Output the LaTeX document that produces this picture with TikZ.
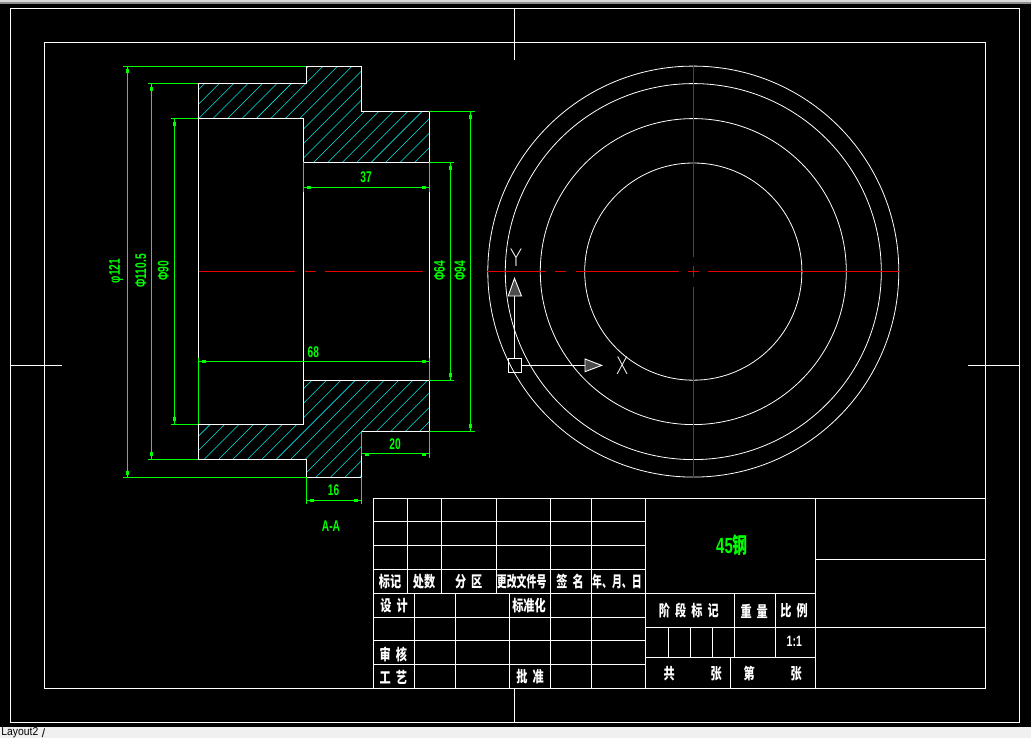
\documentclass[tikz,border=0pt]{standalone}
\usepackage{fontspec}
\usepackage{graphicx}
\setmainfont{Liberation Sans}
\newfontfamily\cjk{Noto Sans CJK SC}
\newfontfamily\thinf{DejaVu Sans ExtraLight}
\newcommand{\tT}[2][.72]{\scalebox{#1}[1]{#2}}
\newcommand{\tG}{\hspace{7pt}}
\newcommand{\dT}[1]{\scalebox{.66}[1]{\textbf{#1}}}
\newcommand{\hk}[2]{\fill[dimgreen] (#1-2,#2-1.6) rectangle (#1+2,#2+1.6);}
\newcommand{\vk}[2]{\fill[dimgreen] (#1-1.6,#2-2) rectangle (#1+1.6,#2+2);}
\definecolor{dimgreen}{RGB}{0,255,0}
\definecolor{cad}{RGB}{255,255,255}
\definecolor{hatchc}{RGB}{0,230,230}
\definecolor{axisred}{RGB}{230,0,0}
\definecolor{tabbar}{RGB}{240,240,240}
\tikzset{
  cadline/.style={draw=cad,line width=.9pt},
  centre/.style={draw=axisred,line width=.9pt},
  dimline/.style={draw=dimgreen,line width=.9pt},
  hatchline/.style={draw=hatchc,line width=.55pt},
  blocktext/.style={text=white,inner sep=0pt,font=\cjk\bfseries\fontsize{15.5}{16}\selectfont},
  dimtext/.style={text=dimgreen,inner sep=0pt,font=\fontsize{15.5}{15.5}\selectfont},
  dimvert/.style={dimtext,rotate=90},
}
\begin{document}
\begin{tikzpicture}[x=1pt,y=-1pt]
\useasboundingbox (0,0) rectangle (1031,738);
\fill[black] (0,0) rectangle (1031,738);
% window chrome
\fill[black!15] (0,0) rectangle (1031,2);
\fill[black!45] (0,2) rectangle (1031,4.5);
% frames
\draw[cadline] (10.5,8.3) rectangle (1019.3,722.3);
\draw[cadline] (44.3,42.3) rectangle (985.7,688.3);
\draw[cadline] (514.5,8.3) -- (514.5,60);
\draw[cadline] (514.5,688.3) -- (514.5,722.3);
\draw[cadline] (10.5,365.4) -- (62,365.4);
\draw[cadline] (968,365.4) -- (1019.3,365.4);
% hatching
\begin{scope}
\clip (198.3,83.3) -- (306.3,83.3) -- (306.3,66.3) -- (361.3,66.3) -- (361.3,111.3) -- (429.3,111.3) -- (429.3,162.3) -- (303.3,162.3) -- (303.3,118.3) -- (198.3,118.3) -- cycle
      (198.3,459.3) -- (306.3,459.3) -- (306.3,477.3) -- (361.3,477.3) -- (361.3,431.3) -- (429.3,431.3) -- (429.3,380.3) -- (303.3,380.3) -- (303.3,424.3) -- (198.3,424.3) -- cycle;
\foreach \k in {0,...,41}{
  \pgfmathsetmacro{\cc}{288.3+14.43*\k}
  \draw[hatchline] (\cc-50,50) -- (\cc-500,500);
}
\end{scope}
% section outline
\draw[cadline] (198.3,83.3) -- (306.3,83.3) -- (306.3,66.3) -- (361.3,66.3) -- (361.3,111.3) -- (429.3,111.3) -- (429.3,431.3) -- (361.3,431.3) -- (361.3,477.3) -- (306.3,477.3) -- (306.3,459.3) -- (198.3,459.3) -- cycle;
\draw[cadline] (198.3,118.3) -- (303.3,118.3) -- (303.3,424.3) -- (198.3,424.3);
\draw[cadline] (303.3,162.3) -- (429.3,162.3);
\draw[cadline] (303.3,380.3) -- (429.3,380.3);
% centre lines of section
\draw[centre] (198.5,271.3) -- (295,271.3);
\draw[centre] (305,271.3) -- (316,271.3);
\draw[centre] (325,271.3) -- (423,271.3);
% circles
\foreach \r in {205.5,188,153,108.6}{
  \draw[cadline,line width=.8pt] (693.3,271.6) circle[radius=\r];
}
\draw[centre] (486.7,271.3) -- (545.7,271.3);
\draw[centre] (555,271.3) -- (566,271.3);
\draw[centre] (576,271.3) -- (679,271.3);
\draw[centre] (688,271.3) -- (699,271.3);
\draw[centre] (708,271.3) -- (900,271.3);
\draw[centre] (693.3,65) -- (693.3,256.7);
\draw[centre] (693.3,266) -- (693.3,276.7);
\draw[centre] (693.3,286.7) -- (693.3,478.3);
% dimensions, left
\draw[dimline] (123,66.3) -- (306.3,66.3);
\draw[dimline] (123,477.3) -- (306.3,477.3);
\draw[dimline] (127.3,66.3) -- (127.3,477.3);
\vk{127.3}{70.7}\vk{127.3}{472.5}
\draw[dimline] (148,83.3) -- (198.3,83.3);
\draw[dimline] (148,459.3) -- (198.3,459.3);
\draw[dimline] (151.3,83.3) -- (151.3,459.3);
\vk{151.3}{89}\vk{151.3}{454}
\draw[dimline] (171,118.3) -- (198.3,118.3);
\draw[dimline] (171,424.3) -- (198.3,424.3);
\draw[dimline] (174.3,118.3) -- (174.3,424.3);
\vk{174.3}{124}\vk{174.3}{419}
% dimensions, right
\draw[dimline] (429.3,162.3) -- (454,162.3);
\draw[dimline] (429.3,380.3) -- (454,380.3);
\draw[dimline] (450.3,162.3) -- (450.3,380.3);
\vk{450.3}{168}\vk{450.3}{375}
\draw[dimline] (429.3,111.3) -- (475,111.3);
\draw[dimline] (429.3,431.3) -- (475,431.3);
\draw[dimline] (470.3,111.3) -- (470.3,431.3);
\vk{470.3}{116.7}\vk{470.3}{426}
% dimension 37
\draw[dimline] (303.3,162.3) -- (303.3,191.6);
\draw[dimline] (429.3,162.3) -- (429.3,191.6);
\draw[dimline] (303.3,187.3) -- (429.3,187.3);
\hk{309}{187.3}\hk{424}{187.3}
% dimension 68
\draw[dimline] (198.3,358) -- (198.3,424.3);
\draw[dimline] (429.3,358) -- (429.3,380.3);
\draw[dimline] (198.3,361.3) -- (429.3,361.3);
\hk{203.5}{361.3}\hk{424}{361.3}
% dimension 20
\draw[dimline] (361.3,431.3) -- (361.3,456);
\draw[dimline] (429.3,431.3) -- (429.3,457.6);
\draw[dimline] (361.3,453.3) -- (429.3,453.3);
\hk{367}{454.3}\hk{424}{454.3}
% dimension 16
\draw[dimline] (306.3,477.3) -- (306.3,503.6);
\draw[dimline] (361.3,477.3) -- (361.3,503.6);
\draw[dimline] (306.3,500.3) -- (361.3,500.3);
\hk{312}{500.3}\hk{356}{500.3}
% dimension texts
\node[dimvert] (d121) at (116,271) {\dT{φ121}};
\node[dimvert] (d110) at (140.7,271) {\dT{Φ110.5}};
\node[dimvert] (d90) at (163.3,271) {\dT{Φ90}};
\node[dimvert] (d64) at (439.5,271) {\dT{Φ64}};
\node[dimvert] (d94) at (460,271) {\dT{Φ94}};
\node[dimtext] (d37) at (366,177.5) {\dT{37}};
\node[dimtext] (d68) at (313.3,352) {\dT{68}};
\node[dimtext] (d20) at (395,444) {\dT{20}};
\node[dimtext] (d16) at (333.5,490.5) {\dT{16}};
\node[dimtext] (aa) at (331,526) {\dT{A-A}};
% UCS icon
\draw[cadline] (508.3,358.6) rectangle (521.7,372.2);
\draw[cadline] (514.5,358.6) -- (514.5,296);
\draw[cadline] (521.7,365.4) -- (585,365.4);
\draw[cadline,fill=black!70] (508.2,296) -- (514.5,278.3) -- (521.5,296) -- cycle;
\draw[cadline,fill=black!70] (585,359) -- (601.7,365.4) -- (585,371.7) -- cycle;
\node[text=white,inner sep=0pt,font=\thinf\fontsize{24}{24}\selectfont] (ucsy) at (516,257.5) {\scalebox{.85}[1]{Y}};
\node[text=white,inner sep=0pt,font=\thinf\fontsize{24}{24}\selectfont] (ucsx) at (622.3,365.5) {\scalebox{.8}[1]{X}};
% title block grid
\draw[cadline] (373.3,498.3) -- (985.7,498.3);
\draw[cadline] (373.3,498.3) -- (373.3,688.3);
\foreach \y in {521.3,545.3,569.3}{\draw[cadline] (373.3,\y) -- (645.5,\y);}
\foreach \y in {593.3,617.3,640.3,664.3}{\draw[cadline] (373.3,\y) -- (645.5,\y);}
\foreach \x in {407.7,441.7,496.7}{\draw[cadline] (\x,498.3) -- (\x,593.3);}
\foreach \x in {550.7,591.7}{\draw[cadline] (\x,498.3) -- (\x,688.3);}
\foreach \x in {414.3,455.3,509.3}{\draw[cadline] (\x,593.3) -- (\x,688.3);}
\draw[cadline] (645.5,498.3) -- (645.5,688.3);
\draw[cadline] (815.3,498.3) -- (815.3,688.3);
\draw[cadline] (815.3,559.3) -- (985.7,559.3);
\draw[cadline] (645.5,593.3) -- (815.3,593.3);
\draw[cadline] (645.5,627.3) -- (985.7,627.3);
\draw[cadline] (645.5,657.3) -- (815.3,657.3);
\foreach \x in {734.3,775.3}{\draw[cadline] (\x,593.3) -- (\x,657.3);}
\foreach \x in {668.3,690.3,712.3}{\draw[cadline] (\x,627.3) -- (\x,657.3);}
\draw[cadline] (730.3,657.3) -- (730.3,688.3);
% title block text
\node[blocktext] (t1) at (390,582) {\tT{标记}};
\node[blocktext] (t2) at (424,582) {\tT{处数}};
\node[blocktext] (t3) at (468.7,582) {\tT{分\tG 区}};
\node[blocktext] (t4) at (521.7,582) {\tT[.64]{更改文件号}};
\node[blocktext] (t5) at (570,582) {\tT{签\tG 名}};
\node[blocktext] (t6) at (617,582) {\tT[.64]{年、月、日}};
\node[blocktext] (t7) at (394,605.7) {\tT{设\tG 计}};
\node[blocktext] (t8) at (529,605.7) {\tT{标准化}};
\node[blocktext] (t9) at (393.3,654) {\tT{审\tG 核}};
\node[blocktext] (t10) at (393.3,677) {\tT{工\tG 艺}};
\node[blocktext] (t11) at (530,677) {\tT{批\tG 准}};
\node[blocktext] (t12) at (688.8,611) {\tT{阶\tG 段\tG 标\tG 记}};
\node[blocktext] (t13) at (754.2,611) {\tT{重\tG 量}};
\node[blocktext] (t14) at (794,611) {\tT{比\tG 例}};
\node[blocktext,font=\fontsize{15}{15}\selectfont] (t15) at (794.3,641) {\scalebox{.7}[1]{\textbf{1:1}}};
\node[blocktext] (t16) at (669.3,673.7) {\tT{共}};
\node[blocktext] (t17) at (716.3,673.7) {\tT{张}};
\node[blocktext] (t18) at (749.3,673.7) {\tT{第}};
\node[blocktext] (t19) at (796.3,673.7) {\tT{张}};
\node[text=dimgreen,inner sep=0pt,font=\fontsize{22}{22}\selectfont\bfseries] (t20) at (732,545) {\scalebox{.68}[1]{45{\cjk\bfseries 钢}}};
% tab bar
\fill[tabbar] (0,727.3) rectangle (1031,738);
\node[anchor=east,text=black,inner sep=0pt,font=\fontsize{11.5}{12}\selectfont] (tab) at (38.5,733) {\scalebox{.9}[1]{Layout2}};
\node[text=black,inner sep=0pt,font=\fontsize{12}{12}\selectfont] (tabsl) at (43.5,733) {/};
\end{tikzpicture}
\end{document}
